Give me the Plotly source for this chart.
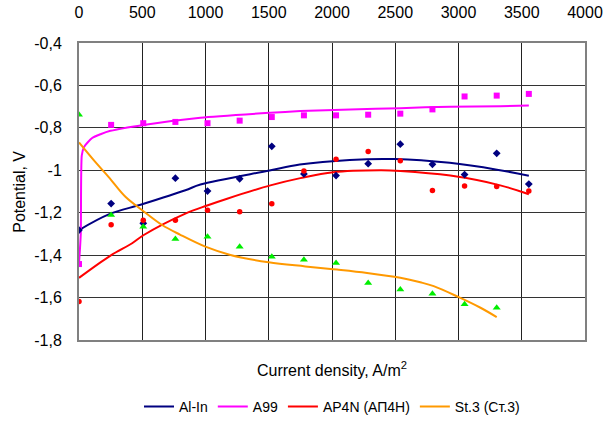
import plotly.graph_objects as go

# ---- measured data points ----
x_pts = [0, 254, 508, 762, 1016, 1270, 1524, 1778, 2032, 2286, 2540, 2794, 3048, 3302, 3556]
al_in = [-1.282, -1.157, -1.25, -1.037, -1.098, -1.04, -0.887, -1.017, -1.025, -0.969, -0.877, -0.972, -1.02, -0.92, -1.065]
a99 = [-1.442, -0.786, -0.778, -0.772, -0.778, -0.766, -0.749, -0.741, -0.741, -0.738, -0.733, -0.713, -0.652, -0.648, -0.640]
ap4n = [-1.618, -1.257, -1.235, -1.236, -1.188, -1.196, -1.158, -1.003, -0.948, -0.911, -0.955, -1.095, -1.074, -1.076, -1.098]
x_st3 = [0, 254, 508, 762, 1016, 1270, 1524, 1778, 2032, 2286, 2540, 2794, 3048, 3302]
st3 = [-0.738, -1.211, -1.266, -1.324, -1.313, -1.36, -1.408, -1.422, -1.437, -1.531, -1.562, -1.582, -1.632, -1.648]

# ---- trend lines ----
tr_al_x = [0, 235, 499, 841, 960, 1506, 1745, 2140, 2496, 2931, 3304, 3556]
tr_al_y = [-1.282, -1.208, -1.16, -1.094, -1.067, -1.001, -0.973, -0.951, -0.947, -0.965, -0.997, -1.026]

tr_a99_x = [0, 14, 22, 40, 104, 170, 249, 510, 960, 1513, 1750, 2145, 2540, 2935, 3330, 3556]
tr_a99_y = [-1.44, -1.30, -0.93, -0.89, -0.848, -0.83, -0.814, -0.786, -0.752, -0.729, -0.721, -0.713, -0.707, -0.70, -0.698, -0.695]

tr_ap_x = [0, 249, 420, 512, 841, 1013, 1171, 1513, 1750, 2010, 2382, 2540, 2935, 3330, 3556]
tr_ap_y = [-1.507, -1.402, -1.344, -1.305, -1.204, -1.166, -1.134, -1.071, -1.037, -1.009, -1.0, -1.003, -1.025, -1.071, -1.113]

tr_st_x = [0, 130, 235, 367, 499, 657, 801, 999, 1197, 1499, 1789, 2040, 2277, 2540, 2698, 2804, 3002, 3174, 3302]
tr_st_y = [-0.869, -0.962, -1.032, -1.125, -1.188, -1.258, -1.304, -1.36, -1.399, -1.434, -1.453, -1.468, -1.484, -1.507, -1.528, -1.546, -1.598, -1.648, -1.692]

x_ticks = [0, 500, 1000, 1500, 2000, 2500, 3000, 3500, 4000]
y_ticks = [-0.4, -0.6, -0.8, -1.0, -1.2, -1.4, -1.6, -1.8]

NAVY = "#000080"
PINK = "#FF00FF"
RED = "#FF0000"
ORANGE = "#FF9900"
GREEN = "#00EE00"

fig = go.Figure()

# trend lines (legend entries)
fig.add_trace(go.Scatter(x=tr_al_x, y=tr_al_y, mode="lines", name="Al-In",
                         line=dict(color=NAVY, width=2, shape="spline")))
fig.add_trace(go.Scatter(x=tr_a99_x, y=tr_a99_y, mode="lines", name="A99",
                         line=dict(color=PINK, width=2, shape="spline", smoothing=0.6)))
fig.add_trace(go.Scatter(x=tr_ap_x, y=tr_ap_y, mode="lines", name="AP4N (АП4Н)",
                         line=dict(color=RED, width=2, shape="spline")))
fig.add_trace(go.Scatter(x=tr_st_x, y=tr_st_y, mode="lines", name="St.3 (Ст.3)",
                         line=dict(color=ORANGE, width=2, shape="spline")))

# data markers
fig.add_trace(go.Scatter(x=x_pts, y=al_in, mode="markers", showlegend=False,
                         marker=dict(symbol="diamond", size=6, color=NAVY)))
fig.add_trace(go.Scatter(x=x_pts, y=a99, mode="markers", showlegend=False,
                         marker=dict(symbol="square", size=6, color=PINK)))
fig.add_trace(go.Scatter(x=x_pts, y=ap4n, mode="markers", showlegend=False,
                         marker=dict(symbol="circle", size=5.5, color=RED)))
fig.add_trace(go.Scatter(x=x_st3, y=st3, mode="markers", showlegend=False,
                         marker=dict(symbol="triangle-up", size=7, color=GREEN)))

FONT = "Liberation Sans, Arial, sans-serif"

fig.update_layout(
    width=605, height=435,
    margin=dict(l=79, r=20, t=43, b=92),
    paper_bgcolor="white", plot_bgcolor="white",
    separators=", ",
    font=dict(family=FONT, size=16, color="#000000"),
    showlegend=True,
    legend=dict(orientation="h", x=0.5, xanchor="center", xref="paper",
                y=-0.225, yanchor="middle", font=dict(size=14),
                itemwidth=30, traceorder="normal"),
    xaxis=dict(
        side="top", range=[0, 4000], tickvals=x_ticks, ticktext=[str(v) for v in x_ticks],
        showgrid=True, gridcolor="#222222", gridwidth=1,
        showline=True, linecolor="#808080", linewidth=2, mirror=True,
        zeroline=False, ticks="", ticklabelstandoff=17, automargin=False,
        tickfont=dict(size=16),
    ),
    yaxis=dict(
        range=[-1.8, -0.4], tickvals=y_ticks,
        ticktext=[("%g" % v).replace(".", ",") for v in y_ticks],
        showgrid=True, gridcolor="#333333", gridwidth=1,
        showline=True, linecolor="#808080", linewidth=2, mirror=True,
        zeroline=False, ticks="", ticklabelstandoff=12, automargin=False,
        tickfont=dict(size=16),
    ),
    annotations=[
        dict(text="Current density, A/m<sup>2</sup>", xref="paper", yref="paper",
             x=0.5, y=-0.097, xanchor="center", yanchor="middle",
             showarrow=False, font=dict(size=16)),
        dict(text="Potential, V", xref="paper", yref="paper", textangle=-90,
             x=-0.118, y=0.5, xanchor="center", yanchor="middle",
             showarrow=False, font=dict(size=16)),
    ],
)

fig.write_html("out.html",
               config={"displayModeBar": False},
               post_script="document.body.style.margin='0';document.body.style.overflow='hidden';")
